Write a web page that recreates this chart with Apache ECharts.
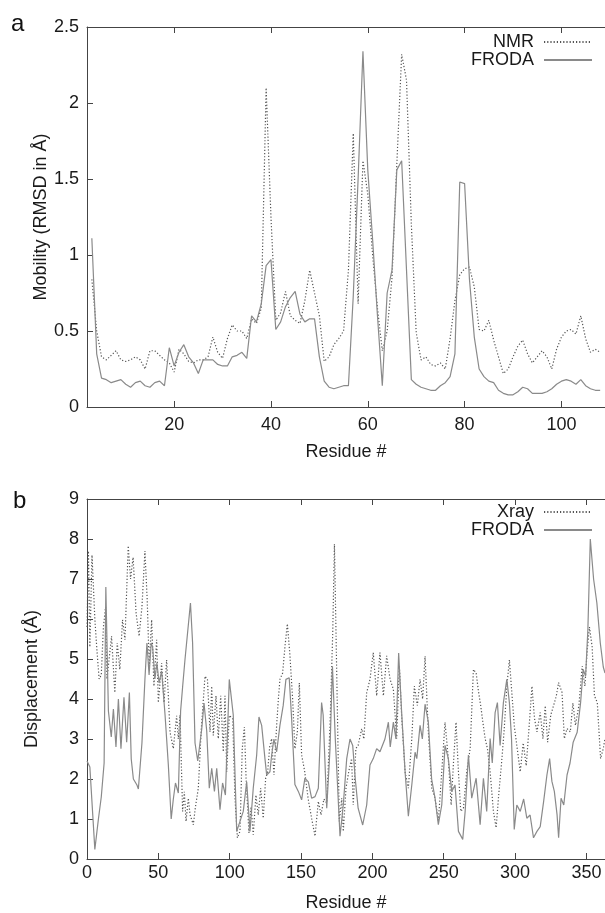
<!DOCTYPE html>
<html>
<head>
<meta charset="utf-8">
<script src="https://cdn.jsdelivr.net/npm/echarts@6/dist/echarts.min.js"></script>
<style>
  html, body { margin: 0; padding: 0; background: #fff; }
  #chart { width: 605px; height: 913px; }
</style>
</head>
<body>
<div id="chart"></div>
<script>
  // panel a: residues 3..108, one value per residue
  const resStartA = 3
  const nmrA = [
    0.84, 0.50, 0.33, 0.31, 0.34, 0.37, 0.31, 0.30, 0.31, 0.33,
    0.31, 0.25, 0.37, 0.37, 0.34, 0.31, 0.29, 0.23, 0.38, 0.35,
    0.30, 0.29, 0.31, 0.31, 0.33, 0.46, 0.36, 0.32, 0.45, 0.54,
    0.50, 0.50, 0.45, 0.58, 0.55, 0.65, 2.10, 1.25, 0.57, 0.62,
    0.76, 0.60, 0.57, 0.55, 0.70, 0.90, 0.75, 0.60, 0.30, 0.33,
    0.41, 0.45, 0.50, 0.90, 1.80, 0.68, 1.62, 1.40, 1.00, 0.65,
    0.37, 0.50, 0.85, 1.60, 2.32, 2.15, 1.20, 0.49, 0.31, 0.33,
    0.28, 0.27, 0.29, 0.25, 0.45, 0.70, 0.87, 0.91, 0.92, 0.79,
    0.51, 0.50, 0.57, 0.44, 0.33, 0.22, 0.25, 0.33, 0.40, 0.44,
    0.35, 0.29, 0.33, 0.37, 0.33, 0.25, 0.38, 0.46, 0.50, 0.51,
    0.48, 0.60, 0.45, 0.36, 0.38, 0.36
  ]
  const frodaA = [
    1.11, 0.35, 0.19, 0.18, 0.16, 0.17, 0.18, 0.15, 0.13, 0.16,
    0.17, 0.14, 0.13, 0.16, 0.17, 0.14, 0.39, 0.27, 0.36, 0.41,
    0.33, 0.29, 0.22, 0.31, 0.31, 0.31, 0.28, 0.27, 0.27, 0.33,
    0.34, 0.36, 0.32, 0.60, 0.56, 0.68, 0.93, 0.97, 0.51, 0.56,
    0.66, 0.72, 0.76, 0.61, 0.56, 0.58, 0.58, 0.33, 0.17, 0.13,
    0.12, 0.13, 0.14, 0.14, 0.73, 1.50, 2.34, 1.56, 1.10, 0.60,
    0.14, 0.75, 0.90, 1.56, 1.62, 0.90, 0.18, 0.15, 0.13, 0.12,
    0.11, 0.11, 0.14, 0.16, 0.20, 0.35, 1.48, 1.47, 0.84, 0.46,
    0.25, 0.20, 0.17, 0.16, 0.11, 0.09, 0.08, 0.08, 0.10, 0.13,
    0.12, 0.09, 0.09, 0.09, 0.10, 0.12, 0.15, 0.17, 0.18, 0.17,
    0.15, 0.18, 0.14, 0.12, 0.11, 0.11
  ]

  // panel b: [residue, displacement] points
  const xrayB = [
    [0, 5.8], [1, 7.7], [2, 5.3], [3.5, 7.6], [5.5, 6.0], [7, 5.2], [8.5, 4.5], [10, 4.6], [11.5, 5.8], [13, 6.3],
    [14, 4.5], [15.5, 5.0], [17.2, 5.57], [19.5, 4.16], [21.2, 5.4], [23, 4.74], [24.9, 5.98], [26.6, 5.48], [28.9, 7.83], [30.5, 7.0],
    [32.3, 7.54], [34.4, 6.15], [36.5, 5.57], [38.5, 6.3], [40.6, 7.7], [42.2, 6.47], [43.6, 4.82], [45.3, 5.98], [46.9, 4.32], [48.8, 5.48],
    [50, 3.91], [52.3, 4.9], [54, 3.91], [55.8, 4.98], [58.2, 3.17], [60.5, 2.76], [62.8, 3.58], [64, 3.0], [65.2, 3.6], [67, 1.19],
    [68.2, 1.68], [69.4, 0.94], [71, 1.52], [72.2, 1.11], [74.5, 0.86], [76, 1.3], [78, 1.77], [80, 3.2], [82.7, 4.57], [84.4, 4.49],
    [86.2, 3.18], [87.4, 4.32], [88.5, 3.09], [90.4, 4.08], [92, 3.01], [93.7, 4.08], [95.5, 2.68], [96.7, 4.08], [97.9, 2.18], [99.7, 3.59],
    [102.1, 3.51], [103.7, 1.52], [105.4, 0.53], [107.2, 0.69], [108.8, 2.76], [110.3, 3.3], [111.5, 2.0], [113.5, 0.65], [115, 1.3], [116.5, 0.61],
    [118.4, 1.6], [120, 1.1], [121.7, 1.77], [123.5, 1.02], [125.2, 2.02], [126.6, 2.18], [128, 2.8], [129.4, 3.01], [131, 2.1], [132.9, 3.34],
    [134.1, 4.0], [135.2, 4.49], [137.1, 4.65], [138.7, 5.3], [140.4, 5.88], [142.2, 5.1], [144.1, 4.0], [145.7, 2.76], [147.4, 3.17], [148.8, 4.4],
    [150.4, 2.6], [152.5, 2.2], [155, 1.5], [157.5, 1.0], [159.8, 0.57], [162.1, 1.44], [164, 1.1], [166, 1.5], [168, 1.4], [170.3, 3.34],
    [172.2, 5.65], [173.4, 7.87], [175, 4.65], [176.8, 0.94], [178.5, 1.52], [179.6, 0.69], [181.5, 1.77], [183.5, 2.2], [185.4, 2.51], [186.6, 1.35],
    [188.4, 2.76], [190, 2.84], [192.5, 3.26], [194, 3.0], [196, 4.16], [198.3, 4.49], [200.6, 5.16], [203, 4.08], [205.3, 5.16], [207.7, 4.08],
    [210, 5.08], [212.4, 4.49], [214.7, 4.24], [217, 3.01], [218.9, 4.82], [220.5, 3.58], [222.9, 2.18], [225.2, 1.77], [227.6, 3.01], [229.4, 4.32],
    [231.5, 3.84], [233.4, 4.49], [235.2, 4.0], [236.9, 5.07], [239.2, 3.18], [241.6, 1.77], [243.9, 1.52], [246.2, 0.94], [248.6, 2.18], [250.9, 3.42],
    [253.2, 2.51], [255.2, 1.35], [256.8, 2.4], [258.6, 3.42], [260.3, 2.18], [261.9, 1.19], [263.8, 1.27], [266.1, 2.18], [268.5, 2.76], [270.8, 4.74],
    [272.7, 4.65], [274.3, 4.2], [275.9, 3.83], [277.5, 3.4], [279, 3.01], [280.6, 2.76], [282.5, 2.18], [284.8, 1.19], [286.7, 0.78], [288.5, 1.6],
    [290.5, 2.4], [292.3, 3.2], [294.2, 4.32], [296, 4.98], [297.7, 4.16], [299.5, 3.3], [301.2, 2.84], [303.6, 2.18], [305.7, 2.9], [307.8, 2.33],
    [309.8, 3.3], [311.8, 4.32], [313.6, 3.51], [315.3, 3.18], [317.6, 3.66], [319.5, 3.01], [321.1, 3.83], [322.8, 2.92], [325, 3.6], [327, 3.84],
    [328.9, 4.08], [330.5, 4.41], [332.9, 4.16], [334.5, 3.01], [336.4, 3.26], [338.7, 3.18], [340.5, 3.9], [342.3, 3.34], [344.7, 3.84], [347, 4.82],
    [348.9, 4.32], [350.5, 5.2], [352.1, 5.8], [354, 5.3], [355.6, 4.08], [357.6, 3.91], [359.9, 2.51], [361.8, 2.76], [363, 3.01]
  ]
  const frodaB = [
    [0, 2.45], [2, 2.3], [5.5, 0.24], [8, 1.0], [10, 1.55], [12, 2.4], [13.2, 6.8], [15, 3.7], [17, 3.05], [18.5, 3.75],
    [20.3, 2.8], [22, 4.0], [23.8, 2.76], [25.9, 4.04], [27.8, 2.92], [29.7, 4.16], [31, 2.5], [32.5, 2.0], [35, 1.85], [36, 1.75],
    [38.5, 2.9], [40.6, 4.5], [42, 5.4], [43.5, 4.6], [45, 5.4], [46, 5.3], [47.6, 4.5], [49, 4.9], [50.5, 4.4], [52.3, 4.7],
    [54.7, 3.6], [57, 2.35], [59, 1.0], [60.5, 1.5], [62, 1.9], [64, 1.65], [65.6, 3.7], [67, 4.3], [68.7, 5.0], [70, 4.95],
    [72.5, 6.4], [74, 5.4], [75.7, 2.9], [77.6, 2.45], [80.4, 3.25], [82, 3.9], [83.9, 3.2], [85.7, 1.77], [87.4, 2.27], [89.3, 1.69],
    [90.9, 2.27], [93.2, 1.23], [95, 1.9], [97, 1.6], [99.7, 4.49], [102.5, 3.6], [104.9, 0.69], [107.2, 0.94], [109.5, 1.19], [111.9, 1.93],
    [114.2, 0.69], [116.5, 1.77], [118.9, 2.6], [120.5, 3.55], [122.4, 3.34], [124.7, 2.51], [125.9, 2.1], [128.2, 2.18], [129.4, 2.6], [131, 3.0],
    [132.9, 2.68], [135.2, 3.34], [137.5, 3.84], [139.4, 4.49], [141.7, 4.53], [143.4, 3.51], [145.7, 1.86], [148.1, 1.69], [150.4, 1.48], [152.7, 2.02],
    [155.1, 1.93], [157.4, 1.52], [159.8, 1.56], [162.1, 1.77], [164.4, 3.91], [165.5, 3.6], [168, 1.27], [170.3, 2.76], [172, 4.82], [174, 3.0],
    [177.3, 0.57], [179.6, 1.35], [182, 2.51], [184.3, 3.0], [186.2, 2.84], [188, 2.0], [190, 1.27], [193.2, 0.85], [196, 1.35], [198.3, 2.35],
    [200.6, 2.51], [203, 2.76], [205.3, 2.68], [208.8, 3.0], [211.2, 3.42], [212.5, 2.8], [214.7, 3.42], [216.5, 3.0], [218.4, 5.15], [220.5, 3.66],
    [222.9, 2.18], [225.2, 1.07], [227.6, 1.85], [229.9, 2.67], [231.1, 2.51], [233.4, 3.34], [235, 3.0], [236.9, 3.87], [239.2, 3.42], [241.5, 2.0],
    [243.9, 1.52], [246.2, 0.86], [248.6, 1.35], [250.9, 2.84], [253.2, 2.51], [255.6, 1.69], [257.9, 1.85], [260.3, 0.69], [263.3, 0.49], [265, 1.19],
    [267.3, 2.6], [269.6, 1.52], [272.7, 2.02], [275.5, 0.86], [277.8, 2.02], [280.1, 1.19], [282.5, 3.01], [284, 2.4], [286, 3.66], [287.6, 3.91],
    [289.5, 2.84], [291.8, 3.91], [294.2, 4.49], [296, 3.91], [297.5, 3.0], [299.4, 0.74], [301.2, 1.35], [303.6, 1.19], [306, 1.5], [308.2, 1.02],
    [310.5, 1.1], [312.9, 0.53], [315.3, 0.69], [317.6, 0.81], [320, 1.44], [322.3, 2.1], [324.2, 2.51], [325.8, 1.94], [327.5, 1.69], [329.4, 1.11],
    [330.5, 0.53], [332.2, 1.52], [334.1, 1.35], [336.4, 2.1], [338.5, 2.4], [340.7, 2.92], [343.5, 3.17], [345.9, 3.91], [347.7, 4.74], [349.4, 4.57],
    [351, 5.73], [352.7, 8.0], [355, 7.0], [357.3, 6.4], [359.7, 5.4], [361.8, 4.8], [363, 4.65]
  ]

  const ticksA = [20, 40, 60, 80, 100]
  const ticksB = [0, 50, 100, 150, 200, 250, 300, 350]

  const font = 'Liberation Sans'
  const axisColor = '#444'
  const textColor = '#1a1a1a'

  const chart = echarts.init(document.getElementById('chart'))

  // 底部x轴
  function bottomX(grid, min, max, ticks, gap, margin) {
    return {
      gridIndex: grid, type: 'value', position: 'bottom', min: min, max: max,
      name: 'Residue #', nameLocation: 'middle', nameGap: gap, nameMoveOverlap: false,
      nameTextStyle: { fontFamily: font, fontSize: 18, color: textColor },
      axisLine: { show: true, lineStyle: { color: axisColor, width: 1 } },
      axisTick: { inside: true, length: 6, customValues: ticks, lineStyle: { color: axisColor } },
      axisLabel: { customValues: ticks, margin: margin, fontFamily: font, fontSize: 18, color: textColor },
      splitLine: { show: false }
    }
  }
  // 顶部镜像刻度
  function topX(grid, min, max, ticks) {
    return {
      gridIndex: grid, type: 'value', position: 'top', min: min, max: max,
      axisLine: { show: true, lineStyle: { color: axisColor, width: 1 } },
      axisTick: { inside: true, length: 6, customValues: ticks, lineStyle: { color: axisColor } },
      axisLabel: { show: false },
      splitLine: { show: false }
    }
  }
  function leftY(grid, max, interval, name, gap) {
    return {
      gridIndex: grid, type: 'value', min: 0, max: max, interval: interval,
      name: name, nameLocation: 'middle', nameGap: gap, nameMoveOverlap: false,
      nameTextStyle: { fontFamily: font, fontSize: 18, color: textColor },
      axisLine: { show: true, lineStyle: { color: axisColor, width: 1 } },
      axisTick: { inside: true, length: 6, lineStyle: { color: axisColor } },
      axisLabel: { margin: 8, fontFamily: font, fontSize: 18, color: textColor },
      splitLine: { show: false }
    }
  }
  function legendAt(top, names) {
    return {
      data: names, orient: 'vertical', right: 12, top: top, align: 'right',
      padding: 0, itemWidth: 48, itemHeight: 14, itemGap: 0,
      itemStyle: { opacity: 0 },
      formatter: n => n + ' ',
      textStyle: { fontFamily: font, fontSize: 18, lineHeight: 18, color: textColor }
    }
  }
  const dotted = { color: '#555', width: 1.2, type: [1.2, 2] }
  const solid = { color: '#8a8a8a', width: 1.2, type: 'solid' }

  chart.setOption({
    animation: false,
    backgroundColor: '#fff',
    grid: [
      { left: 87, top: 27, right: 0, height: 380 },
      { left: 87, top: 499, right: 0, height: 362 }
    ],
    xAxis: [
      bottomX(0, 2, 109, ticksA, 36, 9),
      topX(0, 2, 109, ticksA),
      bottomX(1, 0, 363, ticksB, 35, 5),
      topX(1, 0, 363, ticksB)
    ],
    yAxis: [
      leftY(0, 2.5, 0.5, 'Mobility (RMSD in Å)', 37),
      leftY(1, 9, 1, 'Displacement (Å)', 46)
    ],
    legend: [
      legendAt(33, ['NMR', 'FRODA']),
      legendAt(503, ['Xray', 'FRODA'])
    ],
    graphic: [
      { type: 'text', left: 11, top: 12, style: { text: 'a', font: '24px Liberation Sans', fill: '#111' } },
      { type: 'text', left: 13, top: 489, style: { text: 'b', font: '24px Liberation Sans', fill: '#111' } }
    ],
    series: [
      {
        name: 'NMR', type: 'line', xAxisIndex: 0, yAxisIndex: 0,
        symbol: 'none', lineStyle: dotted, itemStyle: { color: '#555' },
        data: nmrA.map((v, i) => [resStartA + i, v])
      },
      {
        name: 'FRODA', type: 'line', xAxisIndex: 0, yAxisIndex: 0,
        symbol: 'none', lineStyle: solid, itemStyle: { color: '#8a8a8a' },
        data: frodaA.map((v, i) => [resStartA + i, v])
      },
      {
        name: 'Xray', type: 'line', xAxisIndex: 2, yAxisIndex: 1,
        symbol: 'none', lineStyle: dotted, itemStyle: { color: '#555' },
        data: xrayB
      },
      {
        name: 'FRODA', type: 'line', xAxisIndex: 2, yAxisIndex: 1,
        symbol: 'none', lineStyle: solid, itemStyle: { color: '#8a8a8a' },
        data: frodaB
      }
    ]
  })
</script>
</body>
</html>
